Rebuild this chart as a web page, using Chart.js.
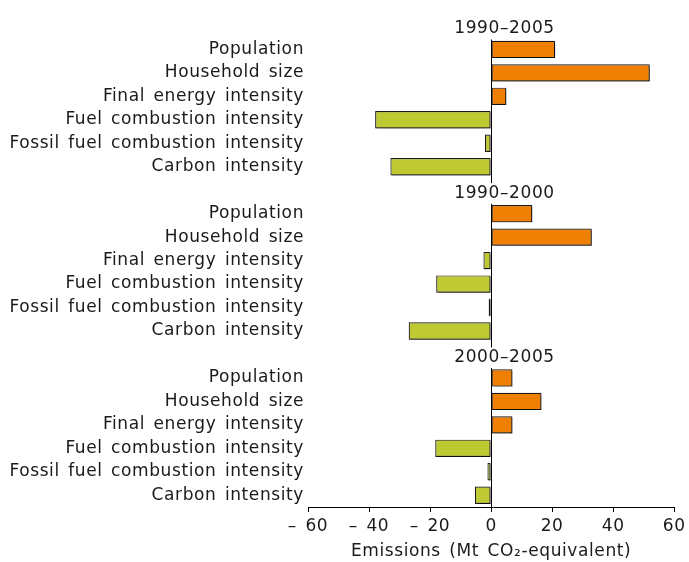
<!DOCTYPE html>
<html>
<head>
<meta charset="utf-8">
<script src="https://cdn.jsdelivr.net/npm/chart.js@4/dist/chart.umd.min.js"></script>
<style>
  html, body { margin: 0; padding: 0; background: #fff; }
  #wrap { width: 689px; height: 562px; position: relative; }
</style>
</head>
<body>
<div id="wrap"><canvas id="c" width="689" height="562"></canvas></div>
<script>
// Decomposition of household CO2 emission changes, by driver and period
const periods = ['1990–2005', '1990–2000', '2000–2005'];
const drivers = [
  'Population',
  'Household size',
  'Final energy intensity',
  'Fuel combustion intensity',
  'Fossil fuel combustion intensity',
  'Carbon intensity'
];
const values1990to2005 = [21, 52, 5, -38, -2, -33];
const values1990to2000 = [13.5, 33, -2.5, -18, -0.8, -27];
const values2000to2005 = [7, 16.5, 7, -18.3, -1.2, -5.3];
const xTicks = [-60, -40, -20, 0, 20, 40, 60];
const tickText = ['– 60', '– 40', '– 20', '0', '20', '40', '60'];

const periodValues = [values1990to2005, values1990to2000, values2000to2005];

// One heading row per period followed by its six driver rows
const labels = [];
const data = [];
periods.forEach((p, i) => {
  labels.push('');
  data.push(null);
  drivers.forEach((d, j) => {
    labels.push(d);
    data.push(periodValues[i][j]);
  });
});

const FONT = "'DejaVu Sans', Verdana, sans-serif";
const SIZE = 17;
const INK = '#1a1a1a';
const ORANGE = '#ee7f00';
const OLIVE = '#bfca33';

// Slightly looser text setting for a Verdana-like look
function setSpacing(ctx) {
  ctx.letterSpacing = '0.6px';
  ctx.wordSpacing = '2.5px';
}

const decorations = {
  id: 'decorations',
  beforeDraw(chart) {
    setSpacing(chart.ctx);
  },
  beforeDatasetsDraw(chart) {
    const ctx = chart.ctx;
    ctx.save();
    ctx.shadowColor = 'rgba(0,0,0,0.4)';
    ctx.shadowOffsetX = 1.5;
    ctx.shadowOffsetY = 1.5;
    ctx.shadowBlur = 0;
  },
  afterDatasetsDraw(chart) {
    const ctx = chart.ctx;
    ctx.restore();
    const xs = chart.scales.x, ys = chart.scales.y;
    const x0 = Math.round(xs.getPixelForValue(0)) + 0.5;
    const row = ys.getPixelForValue(1) - ys.getPixelForValue(0);
    ctx.save();
    setSpacing(ctx);
    ctx.strokeStyle = '#000';
    ctx.lineWidth = 1;
    periods.forEach((p, i) => {
      const head = i * 7;
      const top = ys.getPixelForValue(head + 1) - row * 0.42;
      const bottom = i === periods.length - 1
        ? chart.chartArea.bottom
        : ys.getPixelForValue(head + 6) + row * 0.7;
      ctx.beginPath();
      ctx.moveTo(x0, top);
      ctx.lineTo(x0, bottom);
      ctx.stroke();
      // period heading
      ctx.fillStyle = INK;
      ctx.font = SIZE + 'px ' + FONT;
      ctx.textAlign = 'center';
      ctx.textBaseline = 'middle';
      ctx.fillText(p, x0 + 13, ys.getPixelForValue(head) + 3);
    });
    ctx.restore();
  }
};

new Chart(document.getElementById('c'), {
  type: 'bar',
  data: {
    labels: labels,
    datasets: [{
      data: data,
      backgroundColor: c => (c.raw != null && c.raw < 0 ? OLIVE : ORANGE),
      borderColor: '#1a1a1a',
      borderWidth: 1.2,
      borderSkipped: false,
      barPercentage: 0.74,
      categoryPercentage: 1
    }]
  },
  options: {
    indexAxis: 'y',
    responsive: false,
    animation: false,
    layout: { padding: { top: 12, right: 11, left: 0, bottom: 0 } },
    plugins: { legend: { display: false }, tooltip: { enabled: false } },
    scales: {
      x: {
        type: 'linear',
        min: -60,
        max: 60,
        afterBuildTicks: s => { s.ticks = xTicks.map(v => ({ value: v })); },
        afterFit: s => { s.height = 55; },
        grid: { drawOnChartArea: false, tickLength: 5, color: '#000', tickColor: '#000' },
        border: { display: true, color: '#000', width: 1 },
        ticks: {
          color: INK,
          font: { family: FONT, size: SIZE },
          padding: 4,
          maxRotation: 0,
          callback: (v) => tickText[xTicks.indexOf(v)]
        },
        title: {
          display: true,
          text: 'Emissions (Mt CO₂-equivalent)',
          color: INK,
          font: { family: FONT, size: SIZE },
          padding: { top: 0, bottom: 0 }
        }
      },
      y: {
        afterFit: s => { s.width = 308; },
        grid: { display: false, drawTicks: false },
        border: { display: false },
        ticks: {
          color: INK,
          font: { family: FONT, size: SIZE },
          padding: 4,
          autoSkip: false
        }
      }
    }
  },
  plugins: [decorations]
});
</script>
</body>
</html>
